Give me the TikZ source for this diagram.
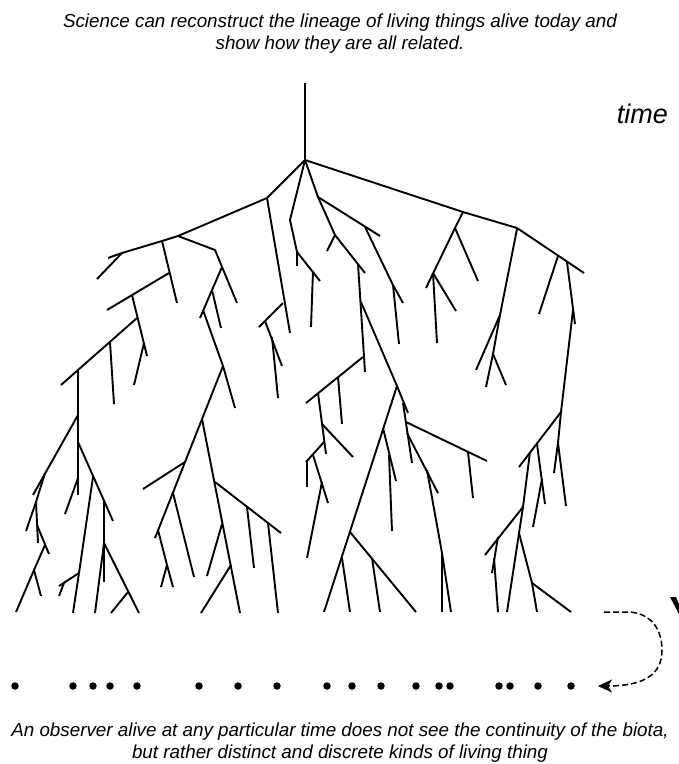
\documentclass[tikz,border=0pt]{standalone}
\usepackage{fontspec}
\setmainfont{Liberation Sans}
\usetikzlibrary{arrows.meta}
\tikzset{
  br/.style={line width=1.9pt, line join=round},
  captext/.style={font=\fontsize{18.8}{22}\selectfont\itshape, align=center, inner sep=0pt},
  dot/.style={circle, fill=black, minimum size=7.5pt, inner sep=0pt},
  dasharrow/.style={line width=1.5pt, dash pattern=on 6pt off 3pt, -{Stealth[length=14pt,width=13pt,inset=4pt]}}
}
\begin{document}
\begin{tikzpicture}[x=1pt,y=-1pt]
\useasboundingbox (0,0) rectangle (679,764);
% captions
\node[captext] (topcap) at (340,34) {Science can reconstruct the lineage of living things alive today and\\show how they are all related.};
\node[captext, font=\fontsize{27}{30}\selectfont\itshape, anchor=base east] (timelbl) at (668,123) {time};
\node[captext] (botcap) at (340,743) {An observer alive at any particular time does not see the continuity of the biota,\\but rather distinct and discrete kinds of living thing};
% root
\draw[br] (305,83) -- (305,160);
% left main
\draw[br] (305,160) -- (267,198) -- (178,236) -- (162,241) -- (122,253) -- (108,258);
\draw[br] (122,253) -- (97,279);
\draw[br] (267,198) -- (290,333);
\draw[br] (283,303) -- (259,327);
\draw[br] (265,321) -- (282,366);
\draw[br] (272,337) -- (278,398);
\draw[br] (178,236) -- (215,250) -- (237,303);
\draw[br] (222,267) -- (212,290) -- (200,318);
\draw[br] (212,290) -- (221,328);
\draw[br] (203,310) -- (223,366) -- (235,408);
\draw[br] (223,366) -- (155,538);
\draw[br] (202,419) -- (240,613);
\draw[br] (185,462) -- (143,489);
\draw[br] (173,493) -- (194,577);
\draw[br] (158,530) -- (167,565) -- (173,587);
\draw[br] (167,565) -- (161,587);
\draw[br] (215,482) -- (281,533);
\draw[br] (247,507) -- (254,568);
\draw[br] (268,523) -- (278,613);
\draw[br] (222,524) -- (207,576);
\draw[br] (231,565) -- (201,613);
% far left group
\draw[br] (162,241) -- (177,303);
\draw[br] (169,273) -- (107,310);
\draw[br] (132,295) -- (147,356);
\draw[br] (144,343) -- (134,385);
\draw[br] (137,318) -- (61,385);
\draw[br] (110,342) -- (114,404);
\draw[br] (78,370) -- (78,495);
\draw[br] (78,415) -- (33,495);
\draw[br] (45,473) -- (36,502) -- (26,531);
\draw[br] (36,502) -- (38,543);
\draw[br] (37,525) -- (49,554);
\draw[br] (45,545) -- (34,570) -- (16,612);
\draw[br] (34,570) -- (41,596);
\draw[br] (78,478) -- (65,514);
\draw[br] (78,442) -- (113,521);
\draw[br] (93,477) -- (79,573) -- (73,613);
\draw[br] (79,573) -- (59,586);
\draw[br] (64,583) -- (59,596);
\draw[br] (104,500) -- (104,582);
\draw[br] (104,543) -- (95,613);
\draw[br] (104,543) -- (139,613);
\draw[br] (128,592) -- (111,613);
% middle group
\draw[br] (305,160) -- (290,220) -- (297,252) -- (320,281);
\draw[br] (297,252) -- (297,266);
\draw[br] (313,271) -- (311,327);
\draw[br] (305,160) -- (318,197) -- (335,235) -- (365,273);
\draw[br] (335,235) -- (327,251);
\draw[br] (318,197) -- (380,236);
\draw[br] (365,227) -- (393,285) -- (403,303);
\draw[br] (393,285) -- (399,344);
\draw[br] (358,264) -- (365,372);
\draw[br] (363,357) -- (306,403);
\draw[br] (318,393) -- (326,454);
\draw[br] (338,377) -- (342,424);
\draw[br] (322,424) -- (353,457);
\draw[br] (324,442) -- (306,462);
\draw[br] (307,461) -- (307,487);
\draw[br] (313,455) -- (328,503);
\draw[br] (322,482) -- (307,558);
\draw[br] (361,302) -- (397,386) -- (408,413);
\draw[br] (397,386) -- (324,612);
\draw[br] (383,428) -- (396,481);
\draw[br] (389,455) -- (392,531);
\draw[br] (350,532) -- (416,612);
\draw[br] (342,558) -- (350,612);
\draw[br] (372,558) -- (380,612);
\draw[br] (403,403) -- (412,463);
\draw[br] (406,422) -- (487,461);
\draw[br] (468,452) -- (473,498);
\draw[br] (407,433) -- (438,493);
\draw[br] (427,470) -- (442,553) -- (451,612);
\draw[br] (442,553) -- (442,612);
% right group
\draw[br] (305,160) -- (463,212) -- (517,228) -- (584,273);
\draw[br] (463,212) -- (455,228) -- (426,288);
\draw[br] (455,228) -- (478,281);
\draw[br] (433,273) -- (437,343);
\draw[br] (433,273) -- (456,311);
\draw[br] (517,229) -- (500,315) -- (493,354);
\draw[br] (500,315) -- (476,370);
\draw[br] (493,354) -- (486,387);
\draw[br] (493,354) -- (506,385);
\draw[br] (558,256) -- (539,314);
\draw[br] (567,262) -- (575,324);
\draw[br] (573,310) -- (561,412) -- (558,443);
\draw[br] (558,443) -- (554,473);
\draw[br] (558,443) -- (566,506);
\draw[br] (561,412) -- (519,467);
\draw[br] (537,444) -- (545,504);
\draw[br] (542,479) -- (533,527);
\draw[br] (530,452) -- (523,507) -- (507,612);
\draw[br] (523,507) -- (485,555);
\draw[br] (498,537) -- (492,573);
\draw[br] (494,558) -- (498,612);
\draw[br] (519,533) -- (532,583) -- (537,612);
\draw[br] (532,583) -- (571,612);
% dots
\foreach \i/\x in {1/15,2/73,3/93,4/110,5/137,6/199,7/238,8/277,9/327,10/352,11/381,12/416,13/439,14/450,15/499,16/510,17/538,18/571}
  \node[dot] (d\i) at (\x,686) {};
% time arrow fragment
\fill (670,597) -- (676,597) -- (679,604) -- (679,614) -- cycle;
% dashed arrow
\coordinate (dstart) at (604,612);
\coordinate (dend) at (598,686);
\draw[dasharrow] (dstart) -- (630,612) .. controls (652,614) and (662,630) .. (662,650) .. controls (662,674) and (645,686) .. (dend);
\end{tikzpicture}
\end{document}
